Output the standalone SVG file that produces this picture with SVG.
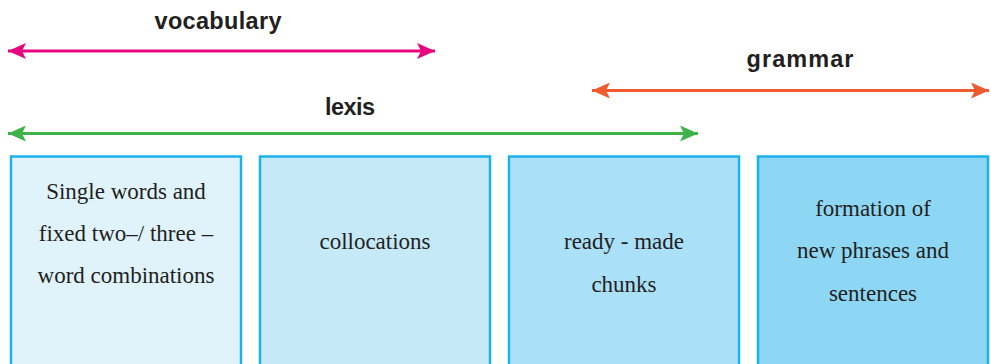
<svg xmlns="http://www.w3.org/2000/svg" width="991" height="364" viewBox="0 0 991 364">
<style>
.box{stroke:#1cb0ec;stroke-width:2.5}
.lbl{font-family:"Liberation Serif","Times New Roman",serif;font-size:23px;fill:#231f20;text-anchor:middle}
.hd{font-family:"Liberation Sans",Arial,sans-serif;font-weight:bold;font-size:23.5px;fill:#231f20;text-anchor:middle}
.ln{stroke-width:3;fill:none}
</style>
<defs>
<marker id="mp" markerUnits="userSpaceOnUse" markerWidth="18" markerHeight="16" refX="18" refY="8" orient="auto-start-reverse" viewBox="0 0 18 16"><path d="M0,0 L18,8 L0,16 L4,8 Z" fill="#e6067f"/></marker>
<marker id="mg" markerUnits="userSpaceOnUse" markerWidth="18" markerHeight="16" refX="18" refY="8" orient="auto-start-reverse" viewBox="0 0 18 16"><path d="M0,0 L18,8 L0,16 L4,8 Z" fill="#3db34a"/></marker>
<marker id="mo" markerUnits="userSpaceOnUse" markerWidth="18" markerHeight="16" refX="18" refY="8" orient="auto-start-reverse" viewBox="0 0 18 16"><path d="M0,0 L18,8 L0,16 L4,8 Z" fill="#f15a2e"/></marker>
</defs>
<g id="connectors">
<line class="ln" x1="8" y1="51" x2="435" y2="51" stroke="#e6067f" marker-start="url(#mp)" marker-end="url(#mp)"/>
<line class="ln" x1="592" y1="90.5" x2="989" y2="90.5" stroke="#f15a2e" marker-start="url(#mo)" marker-end="url(#mo)"/>
<line class="ln" x1="8" y1="133.5" x2="698" y2="133.5" stroke="#3db34a" marker-start="url(#mg)" marker-end="url(#mg)"/>
</g>
<g id="label-vocabulary"><text class="hd" x="218" y="29" textLength="127">vocabulary</text></g>
<g id="label-grammar"><text class="hd" x="800" y="67" textLength="107">grammar</text></g>
<g id="label-lexis"><text class="hd" x="350" y="115" textLength="50">lexis</text></g>
<g id="node-single">
<rect class="box" x="11" y="156.5" width="230" height="220" fill="#e0f3fb"/>
<text class="lbl" x="126" y="199">Single words and</text>
<text class="lbl" x="126" y="241">fixed two–/ three –</text>
<text class="lbl" x="126" y="283">word combinations</text>
</g>
<g id="node-collocations">
<rect class="box" x="260" y="156.5" width="230" height="220" fill="#c6e9f8"/>
<text class="lbl" x="375" y="249">collocations</text>
</g>
<g id="node-chunks">
<rect class="box" x="509" y="156.5" width="230" height="220" fill="#abe0f9"/>
<text class="lbl" x="624" y="249">ready - made</text>
<text class="lbl" x="624" y="292">chunks</text>
</g>
<g id="node-formation">
<rect class="box" x="758" y="156.5" width="230" height="220" fill="#8dd7f4"/>
<text class="lbl" x="873" y="216">formation of</text>
<text class="lbl" x="873" y="258">new phrases and</text>
<text class="lbl" x="873" y="301">sentences</text>
</g>
</svg>
